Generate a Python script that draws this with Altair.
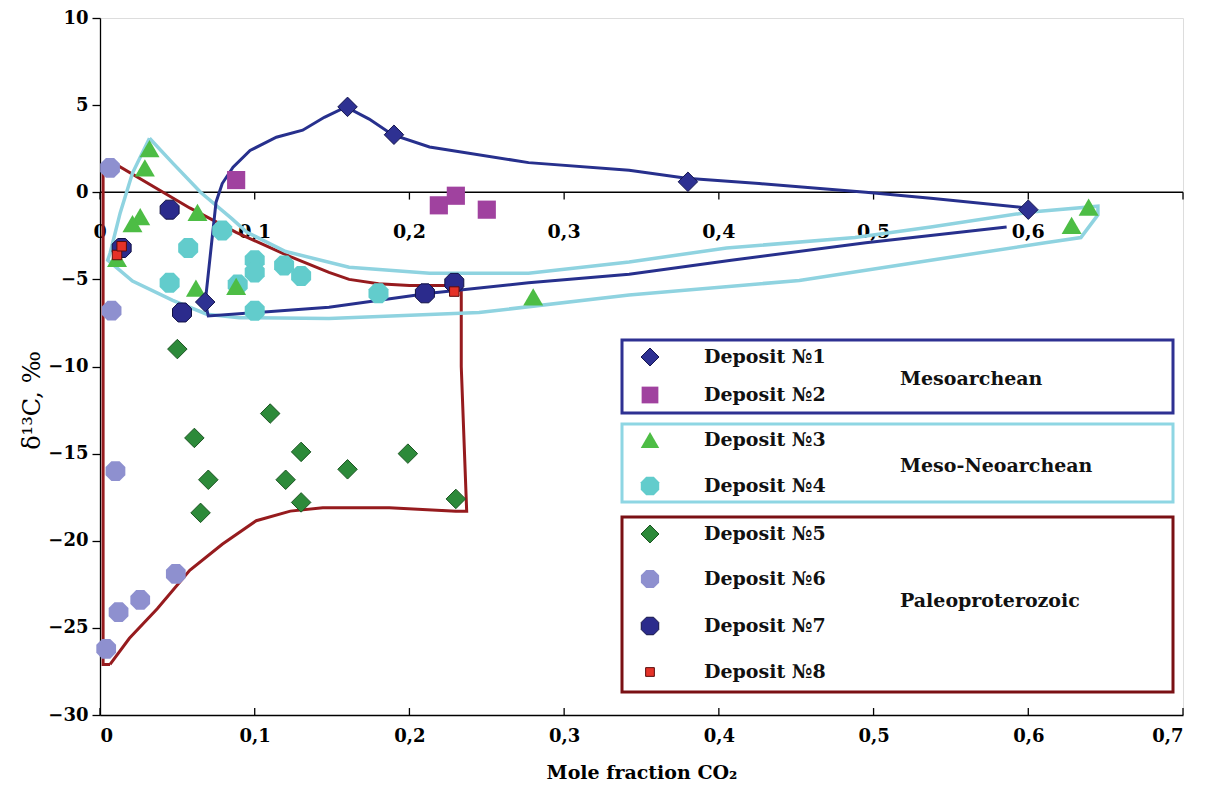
import altair as alt
import pandas as pd

# ---------------- data ----------------
dep1_x = [0.16, 0.19, 0.38, 0.60, 0.068]
dep1_y = [4.9, 3.3, 0.6, -1.0, -6.3]
dep2_x = [0.088, 0.219, 0.23, 0.25]
dep2_y = [0.7, -0.75, -0.2, -1.0]
dep3_x = [0.032, 0.029, 0.026, 0.021, 0.063, 0.062, 0.011, 0.088, 0.28, 0.628, 0.639]
dep3_y = [2.5, 1.4, -1.4, -1.8, -1.15, -5.5, -3.8, -5.4, -6.0, -1.9, -0.85]
dep4_x = [0.079, 0.057, 0.045, 0.1, 0.1, 0.119, 0.13, 0.089, 0.1, 0.18]
dep4_y = [-2.2, -3.2, -5.2, -3.9, -4.6, -4.2, -4.8, -5.3, -6.8, -5.8]
dep5_x = [0.050, 0.110, 0.061, 0.130, 0.199, 0.070, 0.120, 0.160, 0.130, 0.065, 0.230]
dep5_y = [-9.0, -12.7, -14.1, -14.9, -15.0, -16.5, -16.5, -15.9, -17.8, -18.4, -17.6]
dep6_x = [0.0065, 0.0075, 0.01, 0.049, 0.026, 0.012, 0.004]
dep6_y = [1.4, -6.8, -16.0, -21.9, -23.4, -24.1, -26.2]
dep7_x = [0.045, 0.053, 0.014, 0.21, 0.229]
dep7_y = [-1.0, -6.9, -3.2, -5.8, -5.2]
dep8_x = [0.011, 0.014, 0.229]
dep8_y = [-3.6, -3.1, -5.7]

# envelopes
meso_x = [0.586, 0.495, 0.408, 0.342, 0.277, 0.213, 0.148, 0.07, 0.068, 0.069, 0.073,
          0.075, 0.079, 0.086, 0.097, 0.114, 0.131, 0.145, 0.159, 0.174, 0.189, 0.213,
          0.277, 0.342, 0.379, 0.426, 0.495, 0.537, 0.599]
meso_y = [-2.0, -2.9, -3.9, -4.7, -5.2, -5.8, -6.6, -7.1, -6.3, -5.5, -2.2,
          -0.57, 0.5, 1.44, 2.4, 3.16, 3.56, 4.3, 4.9, 4.2, 3.3, 2.6,
          1.7, 1.26, 0.8, 0.5, 0.0, -0.35, -0.9]
neo_x = [0.032, 0.047, 0.065, 0.085, 0.095, 0.12, 0.161, 0.213, 0.277, 0.342, 0.405,
         0.488, 0.537, 0.6, 0.645, 0.645, 0.634, 0.611, 0.537, 0.452, 0.342, 0.245,
         0.148, 0.09, 0.069, 0.047, 0.021, 0.005, 0.0065, 0.013, 0.021, 0.032]
neo_y = [3.1, 1.67, 0.0, -1.5, -2.3, -3.4, -4.3, -4.65, -4.65, -4.0, -3.2,
         -2.6, -2.0, -1.15, -0.8, -1.3, -2.6, -2.9, -3.9, -5.06, -5.9, -6.9,
         -7.25, -7.2, -7.0, -6.2, -5.1, -3.9, -3.5, -1.2, 1.1, 3.1]
paleo_x = [0.0065, 0.002, 0.002, 0.0084, 0.058, 0.088, 0.123, 0.148, 0.161, 0.18, 0.2,
           0.2335, 0.2335, 0.237, 0.23, 0.187, 0.144, 0.123, 0.101, 0.079, 0.058,
           0.037, 0.019, 0.0065]
paleo_y = [-27.1, -27.1, 1.5, 1.7, -0.9, -2.3, -3.7, -4.6, -5.0, -5.25, -5.35,
           -5.35, -10.0, -18.3, -18.3, -18.1, -18.1, -18.3, -18.85, -20.2, -21.7,
           -23.9, -25.6, -27.1]

x_ticks = [0, 0.1, 0.2, 0.3, 0.4, 0.5, 0.6, 0.7]
inner_ticks = [0, 0.1, 0.2, 0.3, 0.4, 0.5, 0.6]
y_ticks = [-30, -25, -20, -15, -10, -5, 0, 5, 10]

legend_labels = ["Deposit №1", "Deposit №2", "Deposit №3", "Deposit №4",
                 "Deposit №5", "Deposit №6", "Deposit №7", "Deposit №8"]
group_labels = ["Mesoarchean", "Meso-Neoarchean", "Paleoproterozoic"]

# ---------------- styling / layout ----------------
W, H = 1083, 697
FONT = "DejaVu Serif"
OCT = "M-0.414,-1L0.414,-1L1,-0.414L1,0.414L0.414,1L-0.414,1L-1,0.414L-1,-0.414Z"

styles = [
    dict(shape="diamond", size=380, fill="#2e3192", stroke="#15164f", sw=1),
    dict(shape="square", size=330, fill="#a0429f", stroke="#a0429f", sw=0),
    dict(shape="triangle-up", size=400, fill="#4dbd45", stroke="#4dbd45", sw=0),
    dict(shape=OCT, size=400, fill="#62cccc", stroke="#62cccc", sw=0),
    dict(shape="diamond", size=380, fill="#2d8a3a", stroke="#1b5522", sw=1),
    dict(shape=OCT, size=390, fill="#8e90cf", stroke="#8e90cf", sw=0),
    dict(shape=OCT, size=360, fill="#2b2b8c", stroke="#121245", sw=1),
    dict(shape="square", size=90, fill="#e53228", stroke="#5a0d0d", sw=1),
]
draw_order = [5, 3, 2, 1, 4, 0, 6, 7]
point_data = [(dep1_x, dep1_y), (dep2_x, dep2_y), (dep3_x, dep3_y), (dep4_x, dep4_y),
              (dep5_x, dep5_y), (dep6_x, dep6_y), (dep7_x, dep7_y), (dep8_x, dep8_y)]

xs = alt.Scale(domain=[0, 0.7], nice=False, zero=False)
ys = alt.Scale(domain=[-30, 10], nice=False, zero=False)

x_axis = alt.Axis(
    values=x_ticks, labelExpr="replace(format(datum.value, '.1~f'), '.', ',')",
    ticks=False, grid=False, domainColor="black", domainWidth=1.3,
    labelFont=FONT, labelFontWeight="bold", labelFontSize=18, labelColor="black",
    labelPadding=12, title="Mole fraction CO₂", titleFont=FONT, titleFontWeight="bold",
    titleFontSize=19, titleColor="black", titleBaseline="alphabetic", titleY=63)
y_axis = alt.Axis(
    values=y_ticks, labelExpr="replace(datum.label, '-', '−')",
    tickSize=8, tickColor="black", tickWidth=1.3, grid=False, domainColor="black",
    domainWidth=1.3, labelFont=FONT, labelFontWeight="bold", labelFontSize=18,
    labelColor="black", labelPadding=4, title="δ¹³C, ‰", titleFont=FONT,
    titleFontWeight="normal", titleFontSize=24, titleColor="black",
    titleX=-68, titleY=382, titleAngle=270, titleAlign="center", titleBaseline="middle")


def X():
    return alt.X("x:Q", scale=xs, axis=x_axis)


def Y():
    return alt.Y("y:Q", scale=ys, axis=y_axis)


layers = []

# inward ticks on the bottom axis
bt_df = pd.DataFrame({"x": x_ticks, "y": [-30] * len(x_ticks)})
layers.append(alt.Chart(bt_df).mark_rule(color="black", strokeWidth=1.3).encode(
    x=X(), y=Y(), y2=alt.Y2(datum=-29.6)))

# inner axis along y = 0
zero_df = pd.DataFrame({"x": [0], "x2": [0.7], "y": [0]})
layers.append(alt.Chart(zero_df).mark_rule(color="black", strokeWidth=1.3).encode(
    x=X(), x2="x2:Q", y=Y()))
itick_df = pd.DataFrame({"x": x_ticks, "y": [0] * len(x_ticks)})
layers.append(alt.Chart(itick_df).mark_rule(color="black", strokeWidth=1.3).encode(
    x=X(), y=Y(), y2=alt.Y2(datum=-0.42)))
ilab_df = pd.DataFrame({"x": inner_ticks, "y": [0] * len(inner_ticks),
                        "t": ["0" if v == 0 else ("%.1f" % v).replace(".", ",") for v in inner_ticks]})
layers.append(alt.Chart(ilab_df).mark_text(font=FONT, fontWeight="bold", fontSize=19,
                                           color="black", baseline="middle", dy=40).encode(
    x=X(), y=Y(), text="t:N"))

# envelopes
for ex, ey, col, sw in [(paleo_x, paleo_y, "#961b1e", 3),
                        (neo_x, neo_y, "#8fd3e0", 3.5),
                        (meso_x, meso_y, "#27308d", 3)]:
    df = pd.DataFrame({"x": ex, "y": ey, "i": list(range(len(ex)))})
    layers.append(alt.Chart(df).mark_line(color=col, strokeWidth=sw, interpolate="linear").encode(
        x=X(), y=Y(), order="i:Q"))

# points
for k in draw_order:
    px, py = point_data[k]
    s = styles[k]
    df = pd.DataFrame({"x": px, "y": py})
    layers.append(alt.Chart(df).mark_point(
        shape=s["shape"], size=s["size"], filled=True, fill=s["fill"], stroke=s["stroke"],
        strokeWidth=s["sw"], opacity=1).encode(x=X(), y=Y()))

# ---------------- custom legend (pixel layout) ----------------
box_x = (522, 1073)
boxes = [((322, 395), "#2e3192"), ((406, 484), "#8ed6e3"), ((499, 674), "#7a1014")]
row_y = [339, 377, 422, 468, 516, 561, 608, 654]
sym_x, text_x, group_x = 550, 604, 800
group_y = [361, 448, 583]

one = pd.DataFrame({"a": [0]})
for (y0, y1), col in boxes:
    layers.append(alt.Chart(one).mark_rect(fill="white", fillOpacity=0, stroke=col, strokeWidth=3).encode(
        x=alt.value(box_x[0]), x2=alt.value(box_x[1]), y=alt.value(y0), y2=alt.value(y1)))
for k in range(8):
    s = styles[k]
    layers.append(alt.Chart(one).mark_point(
        shape=s["shape"], size=s["size"] * 0.85, filled=True, fill=s["fill"], stroke=s["stroke"],
        strokeWidth=s["sw"], opacity=1).encode(x=alt.value(sym_x), y=alt.value(row_y[k])))
    layers.append(alt.Chart(one).mark_text(
        text=legend_labels[k], font=FONT, fontWeight="bold", fontSize=19, color="#111",
        align="left", baseline="middle").encode(x=alt.value(text_x), y=alt.value(row_y[k])))
for g in range(3):
    layers.append(alt.Chart(one).mark_text(
        text=group_labels[g], font=FONT, fontWeight="bold", fontSize=19, color="#111",
        align="left", baseline="middle").encode(x=alt.value(group_x), y=alt.value(group_y[g])))

chart = alt.layer(*layers).properties(
    width=W, height=H, autosize=alt.AutoSizeParams(type="none"),
    padding={"left": 92, "top": 10, "right": 15, "bottom": 73},
).configure_view(stroke="#9a9a9a", strokeWidth=1.3).configure(background="white")

chart.save("out.html", embed_options={"renderer": "svg", "actions": False})
